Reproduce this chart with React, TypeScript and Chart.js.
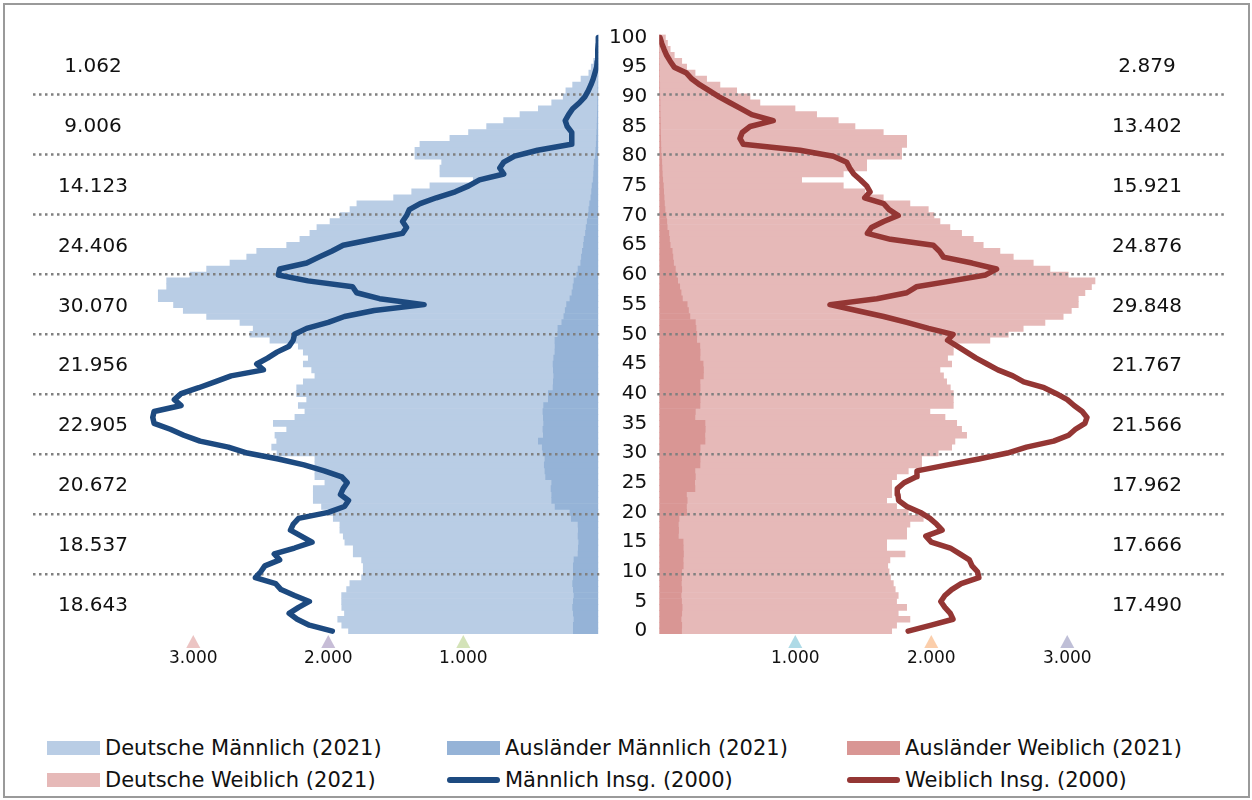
import React, { useEffect, useRef } from 'react';
import { Chart, registerables } from 'chart.js';

Chart.register(...registerables);

const FONT = "'DejaVu Sans', 'Noto Sans', sans-serif";

// ---------- data ----------
// Age categories 0 … 100
const AGES: string[] = Array.from({ length: 101 }, (_, i) => String(i));

// Ages that get a label on the central axis
const AGE_LABEL_STEP = 5;

// Horizontal dotted guide lines (ages)
const GRID_AGES = [10, 20, 30, 40, 50, 60, 70, 80, 90];

// x axis ticks (both halves)
const X_TICKS = [1000, 2000, 3000];

// Decade sums printed at the outer edges (decades 0-9, 10-19, … 90-99)
const DECADE_SUMS_M = [18643, 18537, 20672, 22905, 21956, 30070, 24406, 14123, 9006, 1062];
const DECADE_SUMS_W = [17490, 17666, 17962, 21566, 21767, 29848, 24876, 15921, 13402, 2879];

const AUSL_M_2021 = [
  185, 185, 180, 185, 190, 185, 180, 185, 190, 185,
  185, 185, 180, 150, 148, 145, 150, 148, 150, 200,
  210, 320, 345, 345, 350, 345, 390, 395, 400, 395,
  410, 415, 444, 407, 410, 405, 407, 410, 405, 370,
  370, 335, 333, 330, 333, 335, 330, 321, 320, 321,
  300, 299, 270, 255, 245, 235, 210, 195, 187, 180,
  160, 150, 130, 125, 118, 110, 105, 95, 90, 82,
  74, 70, 64, 55, 50, 46, 38, 35, 32, 30,
  22, 18, 15, 13, 11, 9, 8, 7, 6, 5,
  4, 3, 3, 2, 2, 1, 1, 1, 0, 0,
  0,
];

const DEUT_M_2021 = [
  1665, 1715, 1750, 1695, 1710, 1716, 1721, 1679, 1650, 1568,
  1556, 1556, 1573, 1665, 1667, 1732, 1739, 1766, 1764, 1763,
  1778, 1730, 1766, 1766, 1761, 1680, 1709, 1704, 1699, 1704,
  1970, 2004, 1938, 1988, 1898, 2002, 1840, 1763, 1817, 1790,
  1864, 1899, 1852, 1769, 1790, 1850, 1818, 1864, 1902, 2111,
  2280, 2257, 2384, 2646, 2829, 2911, 3049, 3064, 3010, 3017,
  2864, 2751, 2598, 2479, 2412, 2198, 2105, 2041, 1994, 1905,
  1839, 1769, 1724, 1461, 1332, 1201, 888, 1138, 1141, 1130,
  1336, 1340, 1306, 1086, 950, 818, 693, 573, 438, 340,
  256, 237, 187, 126, 68, 51, 33, 19, 12, 7,
  4,
];

const AUSL_W_2021 = [
  164, 165, 160, 165, 168, 164, 160, 165, 162, 164,
  165, 176, 175, 178, 176, 175, 140, 142, 140, 145,
  201, 200, 205, 200, 262, 260, 265, 262, 299, 300,
  298, 300, 336, 335, 338, 336, 262, 265, 299, 300,
  298, 300, 299, 324, 325, 322, 299, 300, 298, 275,
  276, 270, 265, 225, 215, 205, 170, 160, 150, 135,
  125, 118, 105, 100, 95, 80, 75, 70, 58, 55,
  50, 42, 38, 35, 32, 30, 25, 22, 20, 18,
  16, 12, 11, 10, 9, 8, 7, 6, 5, 5,
  4, 3, 3, 2, 2, 1, 1, 1, 0, 0,
  0,
];

const DEUT_W_2021 = [
  1545, 1580, 1683, 1592, 1651, 1581, 1597, 1570, 1559, 1536,
  1525, 1504, 1521, 1629, 1496, 1497, 1679, 1677, 1703, 1796,
  1630, 1545, 1467, 1509, 1447, 1449, 1480, 1569, 1630, 1629,
  1753, 1850, 1838, 1925, 1885, 1851, 1839, 1725, 1863, 1862,
  1864, 1840, 1814, 1766, 1739, 1828, 1821, 1862, 1864, 2156,
  2290, 2406, 2571, 2745, 2815, 2876, 2911, 2970, 3028, 3069,
  2882, 2755, 2645, 2503, 2410, 2302, 2234, 2153, 2079, 2009,
  1970, 1936, 1805, 1612, 1480, 1323, 1022, 1331, 1505, 1507,
  1766, 1770, 1808, 1809, 1638, 1431, 1309, 1151, 993, 735,
  663, 566, 443, 346, 261, 200, 164, 109, 80, 60,
  45,
];

const INSG_M_2000 = [
  1970, 2140, 2230, 2290, 2220, 2140, 2250, 2350, 2390, 2540,
  2500, 2470, 2360, 2400, 2250, 2120, 2200, 2280, 2260, 2220,
  2000, 1880, 1850, 1910, 1890, 1860, 1900, 2030, 2180, 2370,
  2600, 2740, 2950, 3070, 3170, 3290, 3300, 3290, 3090, 3140,
  3090, 2960, 2840, 2720, 2480, 2530, 2450, 2380, 2290, 2260,
  2250, 2160, 2000, 1880, 1660, 1290, 1620, 1790, 1820, 2150,
  2370, 2360, 2160, 2070, 1975, 1890, 1670, 1450, 1420, 1450,
  1420, 1400, 1320, 1200, 1060, 960, 880, 700, 730, 700,
  620, 450, 200, 195, 198, 230, 245, 220, 190, 140,
  100, 75, 55, 38, 25, 12, 8, 5, 3, 1,
  0,
];

const INSG_W_2000 = [
  1830, 2000, 2160, 2140, 2100, 2070, 2100, 2150, 2220, 2350,
  2340, 2300, 2280, 2210, 2140, 2000, 1960, 2080, 2040, 1990,
  1920, 1820, 1760, 1755, 1750, 1800, 1890, 1895, 2120, 2350,
  2560, 2700, 2900, 3010, 3060, 3130, 3145, 3110, 3050, 3000,
  2920, 2830, 2680, 2600, 2490, 2410, 2330, 2260, 2190, 2120,
  2160, 1980, 1820, 1650, 1450, 1255, 1600, 1820, 1890, 2150,
  2400, 2480, 2300, 2090, 2060, 2015, 1700, 1530, 1560, 1650,
  1757, 1690, 1650, 1510, 1550, 1525, 1480, 1430, 1400, 1378,
  1280, 1035, 618, 593, 610, 667, 838, 680, 600, 520,
  440, 370, 299, 240, 200, 110, 80, 54, 35, 18,
  5,
];

// ---------- styles ----------
const C_DM = '#B9CDE5';
const C_AM = '#95B3D7';
const C_AW = '#D99694';
const C_DW = '#E6B9B8';
const C_LM = '#1D4A80';
const C_LW = '#943634';

const LABEL_DM = 'Deutsche Männlich (2021)';
const LABEL_AM = 'Ausländer Männlich (2021)';
const LABEL_AW = 'Ausländer Weiblich (2021)';
const LABEL_DW = 'Deutsche Weiblich (2021)';
const LABEL_LM = 'Männlich Insg. (2000)';
const LABEL_LW = 'Weiblich Insg. (2000)';

const MARKER_L = ['#C5D9A0', '#B4A7C9', '#E6B0AF']; // at 1000, 2000, 3000 (left)
const MARKER_R = ['#93CDDD', '#F9BE8F', '#AAA9C9']; // at 1000, 2000, 3000 (right)

const fmt = (v: number) => String(Math.round(v)).replace(/\B(?=(\d{3})+(?!\d))/g, '.');

const overlayPlugin = {
  id: 'pyramidOverlay',
  beforeDatasetsDraw(chart: any) {
    chart.$gridDrawn = false;
  },
  beforeDatasetDraw(chart: any, args: any) {
    if (chart.$gridDrawn || args.meta.type !== 'line') return;
    chart.$gridDrawn = true;
    const { ctx, chartArea, scales } = chart;
    const yl = scales.yLin;
    const xL = scales.xL;
    const xR = scales.xR;
    ctx.save();
    ctx.strokeStyle = '#808080';
    ctx.lineWidth = 2.5;
    ctx.setLineDash([2.5, 3.5]);
    for (const a of GRID_AGES) {
      const y = yl.getPixelForValue(a);
      ctx.beginPath();
      ctx.moveTo(chartArea.left, y);
      ctx.lineTo(xL.getPixelForValue(0) + 1, y);
      ctx.stroke();
      ctx.beginPath();
      ctx.moveTo(xR.getPixelForValue(0) - 2, y);
      ctx.lineTo(chartArea.right, y);
      ctx.stroke();
    }
    ctx.restore();
  },
  afterDraw(chart: any) {
    const { ctx, chartArea, scales } = chart;
    const yl = scales.yLin;
    const xL = scales.xL;
    const xR = scales.xR;
    ctx.save();
    // decade sums
    ctx.fillStyle = '#111';
    ctx.font = `20px ${FONT}`;
    ctx.textAlign = 'center';
    ctx.textBaseline = 'middle';
    DECADE_SUMS_M.forEach((s, d) => {
      const y = yl.getPixelForValue(d * 10 + 5) + 2;
      ctx.fillText(fmt(s), chartArea.left + 60, y);
    });
    DECADE_SUMS_W.forEach((s, d) => {
      const y = yl.getPixelForValue(d * 10 + 5) + 2;
      ctx.fillText(fmt(s), chartArea.right - 78, y);
    });
    // small triangular tick markers
    const yTop = chartArea.bottom + 1;
    const yBot = chartArea.bottom + 14;
    const tri = (x: number, col: string) => {
      ctx.beginPath();
      ctx.moveTo(x, yTop);
      ctx.lineTo(x + 7, yBot);
      ctx.lineTo(x - 7, yBot);
      ctx.closePath();
      ctx.globalAlpha = 0.75;
      ctx.fillStyle = col;
      ctx.fill();
      ctx.globalAlpha = 1;
    };
    X_TICKS.forEach((v, i) => {
      tri(xL.getPixelForValue(v), MARKER_L[i]);
      tri(xR.getPixelForValue(v), MARKER_R[i]);
    });
    ctx.restore();
  },
};

const LEGEND = [
  { label: LABEL_DM, color: C_DM, kind: 'box' },
  { label: LABEL_AM, color: C_AM, kind: 'box' },
  { label: LABEL_AW, color: C_AW, kind: 'box' },
  { label: LABEL_DW, color: C_DW, kind: 'box' },
  { label: LABEL_LM, color: C_LM, kind: 'line' },
  { label: LABEL_LW, color: C_LW, kind: 'line' },
];

export default function App() {
  const canvasRef = useRef<HTMLCanvasElement>(null);

  useEffect(() => {
    const canvas = canvasRef.current;
    if (!canvas) return;
    Chart.defaults.font.family = FONT;
    const barCommon = {
      grouped: false,
      barPercentage: 1,
      categoryPercentage: 1,
      borderWidth: 0,
      yAxisID: 'y',
      indexAxis: 'y',
      order: 1,
    };
    const lineCommon = {
      type: 'line',
      yAxisID: 'y',
      indexAxis: 'y',
      borderWidth: 5.5,
      pointRadius: 0,
      pointHoverRadius: 0,
      fill: false,
      tension: 0,
      borderCapStyle: 'round',
      borderJoinStyle: 'round',
      order: 0,
    };
    const xCommon = {
      type: 'linear',
      axis: 'x',
      position: 'bottom',
      stack: 'halves',
      stacked: true,
      min: 0,
      grid: { display: false, drawTicks: false },
      border: { display: false },
      afterBuildTicks: (s: any) => {
        s.ticks = X_TICKS.map((v) => ({ value: v }));
      },
      ticks: {
        autoSkip: false,
        maxRotation: 0,
        minRotation: 0,
        padding: 14,
        color: '#111',
        font: { size: 17, family: FONT },
        callback: (v: any) => fmt(Number(v)),
      },
    };
    const chart = new Chart(canvas, {
      type: 'bar',
      data: {
        labels: AGES,
        datasets: [
          { ...barCommon, label: LABEL_AM, data: AUSL_M_2021, backgroundColor: C_AM, xAxisID: 'xL' },
          { ...barCommon, label: LABEL_DM, data: DEUT_M_2021, backgroundColor: C_DM, xAxisID: 'xL' },
          { ...barCommon, label: LABEL_AW, data: AUSL_W_2021, backgroundColor: C_AW, xAxisID: 'xR' },
          { ...barCommon, label: LABEL_DW, data: DEUT_W_2021, backgroundColor: C_DW, xAxisID: 'xR' },
          { ...lineCommon, label: LABEL_LM, data: INSG_M_2000, borderColor: C_LM, backgroundColor: C_LM, xAxisID: 'xL', stack: 'lineM' },
          { ...lineCommon, label: LABEL_LW, data: INSG_W_2000, borderColor: C_LW, backgroundColor: C_LW, xAxisID: 'xR', stack: 'lineW' },
        ] as any,
      },
      options: {
        indexAxis: 'y',
        responsive: false,
        animation: false,
        events: [],
        layout: { padding: { left: 33, right: 27, top: 34.5, bottom: 17.5 } },
        plugins: {
          legend: { display: false },
          tooltip: { enabled: false },
        },
        scales: {
          y: {
            type: 'category',
            axis: 'y',
            reverse: true,
            offset: true,
            position: { xG: 0.8 },
            grid: { display: false, drawTicks: false, offset: true },
            border: { display: false },
            ticks: {
              autoSkip: false,
              padding: 0,
              color: '#111',
              font: { size: 20, family: FONT },
              callback: (_v: any, i: number) => (i % AGE_LABEL_STEP === 0 ? AGES[i] : ''),
            },
          },
          yLin: {
            type: 'linear',
            axis: 'y',
            position: 'left',
            display: false,
            offset: false,
            grid: { offset: false },
            min: 0,
            max: 100,
          },
          xL: { ...xCommon, reverse: true, max: 4187, stackWeight: 565.3 },
          xG: {
            type: 'linear',
            axis: 'x',
            position: 'bottom',
            stack: 'halves',
            stackWeight: 61,
            display: false,
            offset: false,
            min: 0,
            max: 1,
          },
          xR: { ...xCommon, max: 4160, stackWeight: 565.7 },
        } as any,
      },
      plugins: [overlayPlugin],
    } as any);
    return () => chart.destroy();
  }, []);

  const cols = [47, 447, 847];
  const rows = [748, 780];

  return (
    <div
      style={{
        position: 'fixed',
        left: 0,
        top: 0,
        width: 1252,
        height: 800,
        background: '#fff',
        overflow: 'hidden',
      }}
    >
      <canvas
        ref={canvasRef}
        width={1252}
        height={700}
        style={{ position: 'absolute', left: 0, top: 0, width: 1252, height: 700 }}
      />
      {LEGEND.map((item, i) => (
        <div
          key={item.label}
          style={{
            position: 'absolute',
            left: cols[i % 3],
            top: rows[Math.floor(i / 3)] - 14,
            height: 28,
            display: 'flex',
            alignItems: 'center',
            fontFamily: FONT,
            fontSize: 21,
            color: '#111',
            whiteSpace: 'nowrap',
          }}
        >
          <span
            style={{
              display: 'inline-block',
              width: 53,
              height: item.kind === 'box' ? 14 : 6,
              borderRadius: item.kind === 'box' ? 0 : 3,
              background: item.color,
              marginRight: 5,
            }}
          />
          <span>{item.label}</span>
        </div>
      ))}
      <div
        style={{
          position: 'absolute',
          left: 3,
          top: 3,
          width: 1247,
          height: 795,
          border: '2px solid #9a9a9a',
          boxSizing: 'border-box',
          pointerEvents: 'none',
        }}
      />
    </div>
  );
}
